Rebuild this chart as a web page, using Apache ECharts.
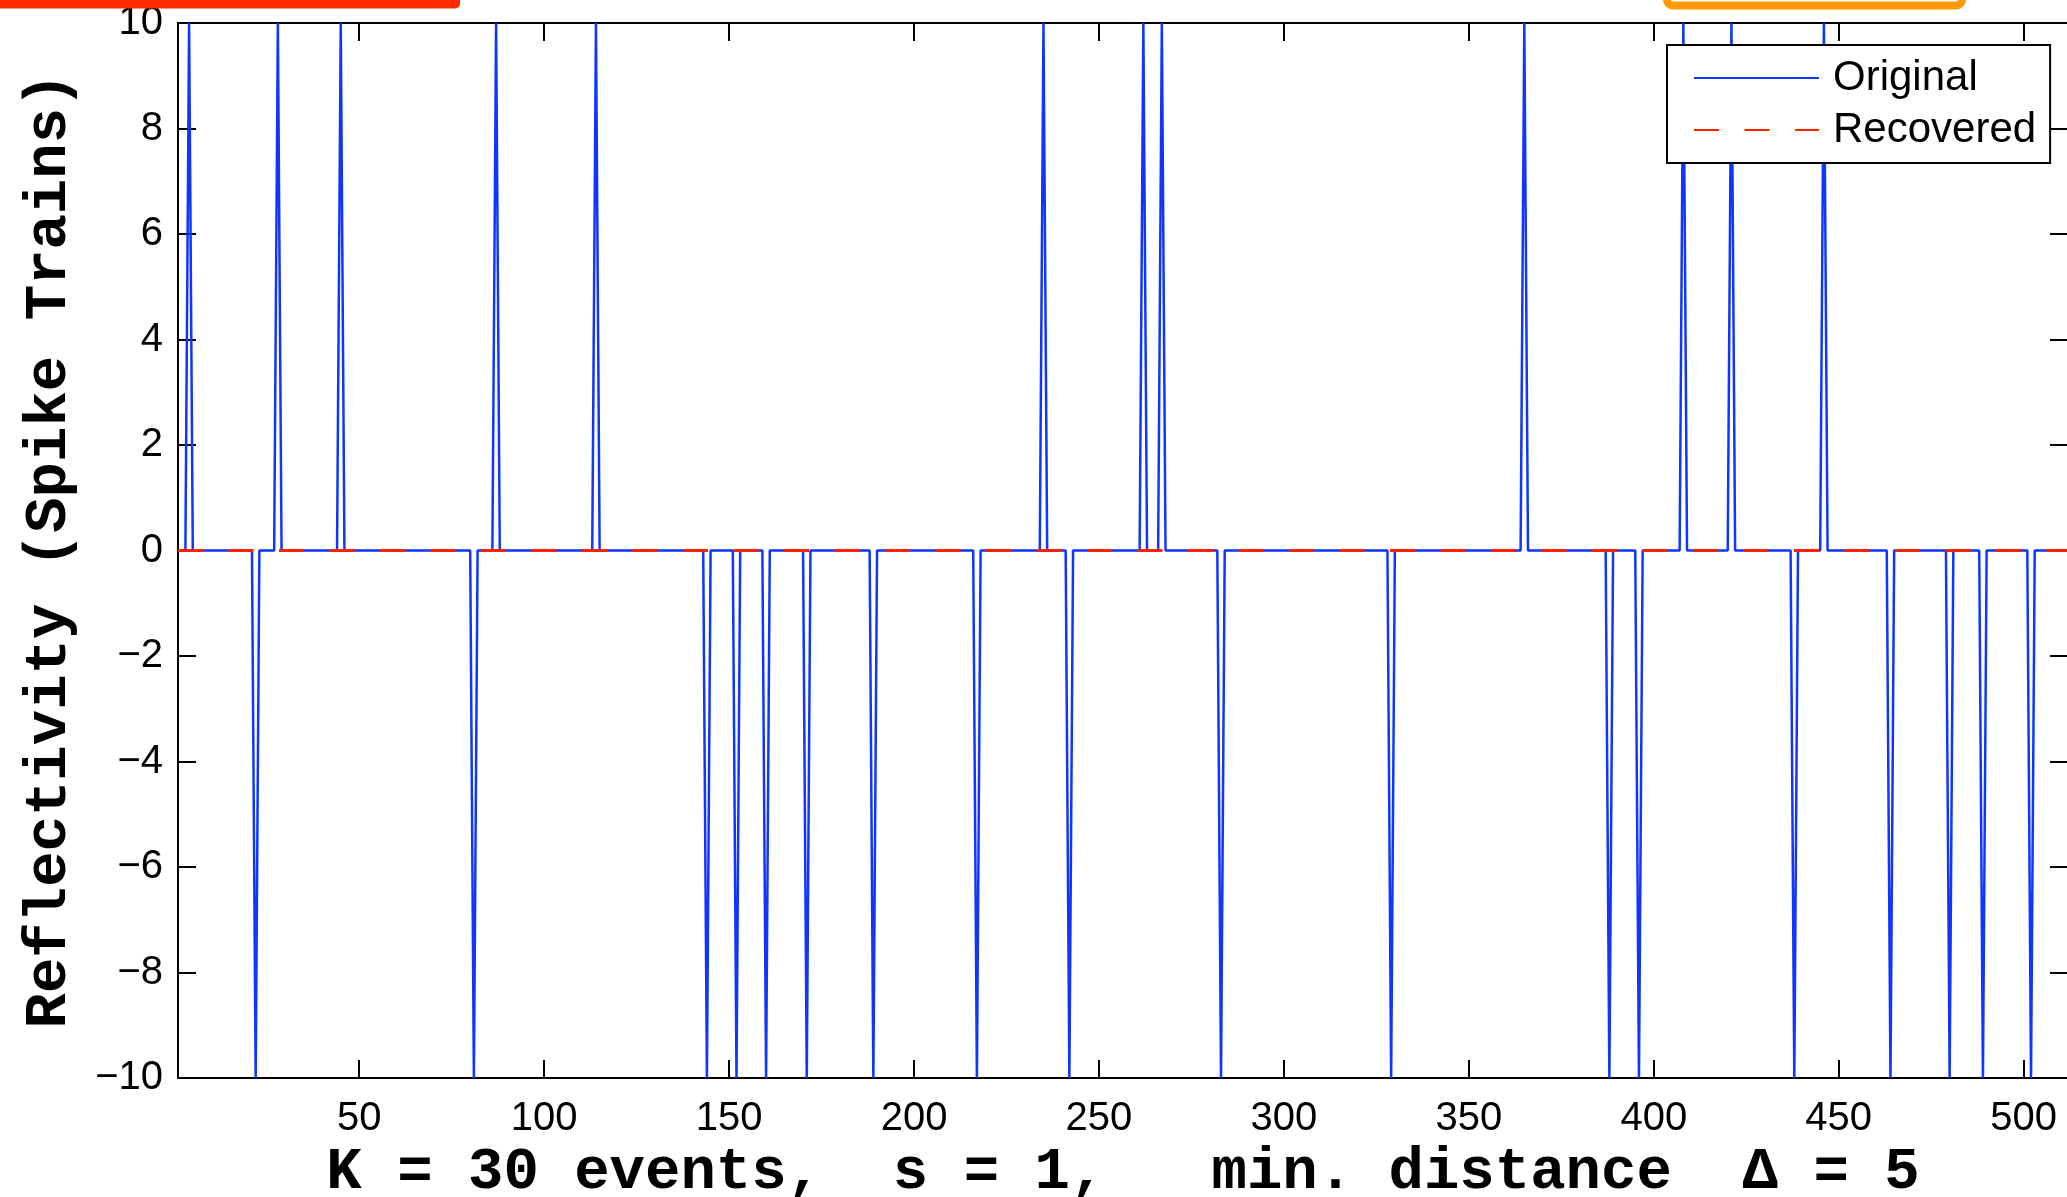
<!DOCTYPE html>
<html><head><meta charset="utf-8">
<script src="https://cdn.jsdelivr.net/npm/echarts@6/dist/echarts.min.js"></script>
<style>html,body{margin:0;padding:0;background:#fff}#c{width:2067px;height:1197px}</style>
</head><body><div id="c"></div>
<script>
// ---- data ----
const sampleCount = 512;
const xRange = [1, 512];
const yRange = [-10, 10];
const xTickValues = [50, 100, 150, 200, 250, 300, 350, 400, 450, 500];
const yTickStep = 2;
const seriesNames = ['Original', 'Recovered'];
const originalSpikePositions = [4, 22, 28, 45, 81, 87, 114, 144, 152, 160, 171, 189, 217, 235, 242, 262, 267, 283, 329, 365, 388, 396, 408, 421, 438, 446, 464, 480, 489, 502];
const originalSpikeValues   = [10, -10, 10, 10, -10, 10, 10, -10, -10, -10, -10, -10, -10, 10, -10, 10, 10, -10, -10, 10, -10, -10, 10, 10, -10, 10, -10, -10, -10, -10];
const recoveredSpikePositions = [];
const recoveredSpikeValues = [];
const xAxisTitle = 'K = 30 events,  s = 1,   min. distance  \u0394 = 5';
const yAxisTitle = 'Reflectivity (Spike Trains)';

function buildTrain(pos, vals) {
  const d = [];
  for (let i = 1; i <= sampleCount; i++) d.push([i, 0]);
  pos.forEach((p, j) => { d[p - 1][1] = vals[j]; });
  return d;
}
const originalData = buildTrain(originalSpikePositions, originalSpikeValues);
const recoveredData = buildTrain(recoveredSpikePositions, recoveredSpikeValues);

const BLUE = '#0f35ff';
const RED = '#ff2200';
const tickFont = '"Liberation Sans", Arial, Helvetica, sans-serif';
const monoFont = '"Liberation Mono", "Courier New", monospace';

const chart = echarts.init(document.getElementById('c'), null, {renderer: 'canvas'});
const axisLine = {show: true, onZero: false, lineStyle: {color: '#000', width: 2}};
chart.setOption({
  animation: false,
  backgroundColor: '#fff',
  grid: {left: 178, top: 23, right: -1, bottom: 119, containLabel: false, outerBoundsMode: 'none'},
  xAxis: [{
    type: 'value', min: xRange[0], max: xRange[1], position: 'bottom',
    axisLine: axisLine,
    axisTick: {show: true, inside: true, length: 18, lineStyle: {color: '#000', width: 2}, customValues: xTickValues},
    axisLabel: {show: true, customValues: xTickValues, margin: 21, color: '#000', fontSize: 40, fontFamily: tickFont},
    splitLine: {show: false},
    name: xAxisTitle, nameLocation: 'middle', nameGap: 58,
    nameTextStyle: {color: '#000', fontSize: 59, fontWeight: 'bold', fontFamily: monoFont}
  }, {
    type: 'value', min: xRange[0], max: xRange[1], position: 'top',
    axisLine: axisLine,
    axisTick: {show: true, inside: true, length: 18, lineStyle: {color: '#000', width: 2}, customValues: xTickValues},
    axisLabel: {show: false},
    splitLine: {show: false}
  }],
  yAxis: [{
    type: 'value', min: yRange[0], max: yRange[1], interval: yTickStep, position: 'left',
    axisLine: axisLine,
    axisTick: {show: true, inside: true, length: 18, lineStyle: {color: '#000', width: 2}},
    axisLabel: {show: true, margin: 15, color: '#000', fontSize: 40, fontFamily: tickFont,
      formatter: v => (v < 0 ? '\u2212' + Math.abs(v) : String(v))},
    splitLine: {show: false},
    name: yAxisTitle, nameLocation: 'middle', nameGap: 98, nameRotate: 90,
    nameTextStyle: {color: '#000', fontSize: 59, fontWeight: 'bold', fontFamily: monoFont}
  }, {
    type: 'value', min: yRange[0], max: yRange[1], interval: yTickStep, position: 'right',
    axisLine: axisLine,
    axisTick: {show: true, inside: true, length: 18, lineStyle: {color: '#000', width: 2}},
    axisLabel: {show: false},
    splitLine: {show: false}
  }],
  legend: {
    orient: 'vertical', left: 1667, top: 45,
    data: seriesNames,
    backgroundColor: '#fff', borderColor: '#000', borderWidth: 2, borderRadius: 0,
    padding: [12, 14, 12, 26],
    itemWidth: 125, itemHeight: 42, itemGap: 10,
    itemStyle: {opacity: 0},
    textStyle: {color: '#000', fontSize: 42, lineHeight: 42, fontFamily: tickFont, padding: [0, 0, 0, 9]},
    selectedMode: false
  },
  series: [{
    name: seriesNames[0], type: 'line', data: originalData, symbol: 'none', showSymbol: false,
    xAxisIndex: 0, yAxisIndex: 0, sampling: 'none',
    lineStyle: {color: BLUE, width: 2.5}, itemStyle: {color: BLUE}
  }, {
    name: seriesNames[1], type: 'line', data: recoveredData, symbol: 'none', showSymbol: false,
    xAxisIndex: 0, yAxisIndex: 0, sampling: 'none',
    lineStyle: {color: RED, width: 3, type: [25, 25.5]}, itemStyle: {color: RED}
  }],
  graphic: [
    {type: 'rect', shape: {x: -10, y: -10, width: 470, height: 18.5, r: 5}, style: {fill: '#ff2a00'}, z: 200},
    {type: 'rect', shape: {x: 1667, y: -100, width: 295, height: 105.5, r: 6}, style: {fill: 'none', stroke: '#ff9900', lineWidth: 8}, z: 200}
  ]
});
</script></body></html>
